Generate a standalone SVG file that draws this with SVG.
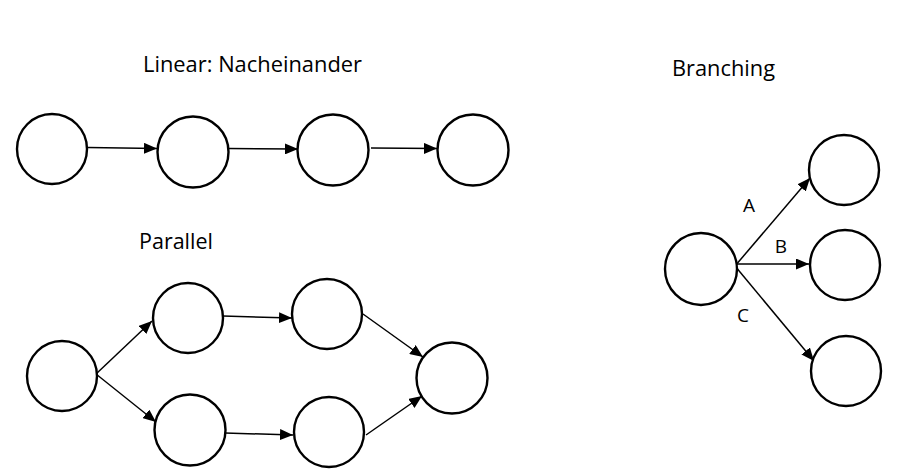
<svg xmlns="http://www.w3.org/2000/svg" width="897" height="474" viewBox="0 0 897 474">
<defs>
<marker id="ah" markerUnits="userSpaceOnUse" markerWidth="14" markerHeight="11" refX="13" refY="5.5" orient="auto">
<path d="M0,0 L13,5.5 L0,11 z" fill="#000"/>
</marker>
<style>
.n{fill:#fff;stroke:#000;stroke-width:2.4}
.e{stroke:#000;stroke-width:1.5;fill:none;marker-end:url(#ah)}
.t{font-family:"Open Sans","Noto Sans",sans-serif;font-size:22px;fill:#000}
.l{font-family:"Open Sans","Noto Sans",sans-serif;font-size:19px;fill:#000;text-anchor:middle}
</style>
</defs>
<rect width="897" height="474" fill="#fff"/>
<text class="t" x="143" y="72" textLength="219" lengthAdjust="spacingAndGlyphs">Linear: Nacheinander</text>
<text class="t" x="139" y="249" textLength="74" lengthAdjust="spacingAndGlyphs">Parallel</text>
<text class="t" x="672" y="76" textLength="103" lengthAdjust="spacingAndGlyphs">Branching</text>
<g id="connectors">
<line class="e" x1="88" y1="147.5" x2="157" y2="148.5"/>
<line class="e" x1="229" y1="148.5" x2="298" y2="149"/>
<line class="e" x1="371" y1="148" x2="437" y2="148.5"/>
<line class="e" x1="96" y1="374" x2="152" y2="321"/>
<line class="e" x1="96" y1="374" x2="156" y2="422"/>
<line class="e" x1="223" y1="316" x2="292" y2="318"/>
<line class="e" x1="225" y1="433" x2="293" y2="435"/>
<line class="e" x1="363" y1="314" x2="423" y2="357"/>
<line class="e" x1="366" y1="435" x2="422" y2="396"/>
<line class="e" x1="735" y1="266" x2="810" y2="178"/>
<line class="e" x1="735" y1="264" x2="809" y2="264"/>
<line class="e" x1="735" y1="266" x2="814" y2="361"/>
</g>
<g id="labels">
<text class="l" x="749" y="212">A</text>
<text class="l" x="781" y="253">B</text>
<text class="l" x="743" y="322">C</text>
</g>
<g id="lin1"><circle class="n" cx="52" cy="149" r="35"/></g>
<g id="lin2"><circle class="n" cx="193" cy="152" r="35.5"/></g>
<g id="lin3"><circle class="n" cx="333" cy="150" r="35.5"/></g>
<g id="lin4"><circle class="n" cx="473" cy="150" r="35.5"/></g>
<g id="par1"><circle class="n" cx="62" cy="376" r="35"/></g>
<g id="par2"><circle class="n" cx="188" cy="318" r="35"/></g>
<g id="par3"><circle class="n" cx="327" cy="314" r="35"/></g>
<g id="par4"><circle class="n" cx="190" cy="430" r="35.5"/></g>
<g id="par5"><circle class="n" cx="329" cy="432" r="35"/></g>
<g id="par6"><circle class="n" cx="452" cy="378" r="35.5"/></g>
<g id="br1"><circle class="n" cx="701" cy="269" r="36"/></g>
<g id="br2"><circle class="n" cx="844" cy="170" r="35"/></g>
<g id="br3"><circle class="n" cx="845" cy="265" r="35"/></g>
<g id="br4"><circle class="n" cx="846" cy="371" r="35"/></g>
</svg>
